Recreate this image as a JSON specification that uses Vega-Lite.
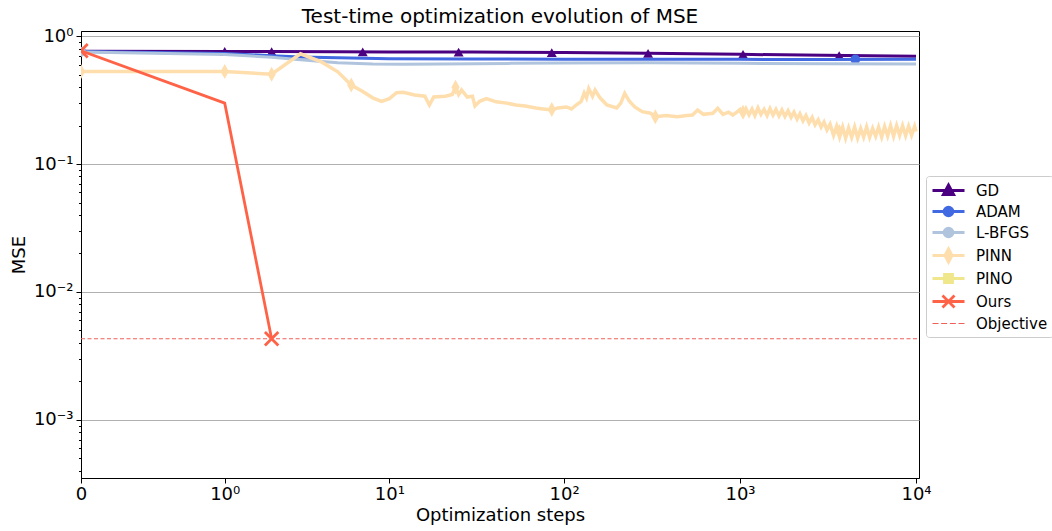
{
  "$schema": "https://vega.github.io/schema/vega-lite/v6.json",
  "width": 838,
  "height": 447,
  "autosize": {"type": "none"},
  "padding": {"left": 81, "top": 31, "right": 133, "bottom": 53},
  "title": {"text": "Test-time optimization evolution of MSE", "fontSize": 20, "fontWeight": "normal", "color": "black", "anchor": "middle", "offset": 0},
  "config": {
    "font": "DejaVu Sans",
    "view": {"stroke": "black", "strokeWidth": 1},
    "legend": {"labelFont": "DejaVu Sans"}
  },
  "datasets": {
    "lines": [
      {"series": "GD", "step": 0, "mse": 0.765}, {"series": "GD", "step": 1, "mse": 0.762}, {"series": "GD", "step": 2, "mse": 0.759}, {"series": "GD", "step": 5, "mse": 0.757}, {"series": "GD", "step": 10, "mse": 0.755}, {"series": "GD", "step": 30, "mse": 0.752}, {"series": "GD", "step": 100, "mse": 0.746}, {"series": "GD", "step": 300, "mse": 0.736}, {"series": "GD", "step": 1000, "mse": 0.722}, {"series": "GD", "step": 3000, "mse": 0.71}, {"series": "GD", "step": 10000, "mse": 0.697},
      {"series": "ADAM", "step": 0, "mse": 0.76}, {"series": "ADAM", "step": 1, "mse": 0.735}, {"series": "ADAM", "step": 2, "mse": 0.705}, {"series": "ADAM", "step": 3, "mse": 0.69}, {"series": "ADAM", "step": 5, "mse": 0.678}, {"series": "ADAM", "step": 10, "mse": 0.668}, {"series": "ADAM", "step": 30, "mse": 0.664}, {"series": "ADAM", "step": 100, "mse": 0.662}, {"series": "ADAM", "step": 300, "mse": 0.661}, {"series": "ADAM", "step": 1000, "mse": 0.66}, {"series": "ADAM", "step": 3000, "mse": 0.659}, {"series": "ADAM", "step": 10000, "mse": 0.66},
      {"series": "L-BFGS", "step": 0, "mse": 0.755}, {"series": "L-BFGS", "step": 1, "mse": 0.72}, {"series": "L-BFGS", "step": 2, "mse": 0.685}, {"series": "L-BFGS", "step": 3, "mse": 0.655}, {"series": "L-BFGS", "step": 5, "mse": 0.622}, {"series": "L-BFGS", "step": 8, "mse": 0.607}, {"series": "L-BFGS", "step": 12, "mse": 0.605}, {"series": "L-BFGS", "step": 20, "mse": 0.608}, {"series": "L-BFGS", "step": 50, "mse": 0.614}, {"series": "L-BFGS", "step": 100, "mse": 0.618}, {"series": "L-BFGS", "step": 300, "mse": 0.62}, {"series": "L-BFGS", "step": 1000, "mse": 0.615}, {"series": "L-BFGS", "step": 3000, "mse": 0.61}, {"series": "L-BFGS", "step": 10000, "mse": 0.608},
      {"series": "PINN", "step": 0, "mse": 0.53}, {"series": "PINN", "step": 1, "mse": 0.53}, {"series": "PINN", "step": 2, "mse": 0.505}, {"series": "PINN", "step": 3, "mse": 0.73}, {"series": "PINN", "step": 4, "mse": 0.63}, {"series": "PINN", "step": 5, "mse": 0.527}, {"series": "PINN", "step": 6, "mse": 0.415}, {"series": "PINN", "step": 7, "mse": 0.37}, {"series": "PINN", "step": 8, "mse": 0.33}, {"series": "PINN", "step": 9, "mse": 0.31}, {"series": "PINN", "step": 10, "mse": 0.325}, {"series": "PINN", "step": 11, "mse": 0.362}, {"series": "PINN", "step": 12, "mse": 0.365}, {"series": "PINN", "step": 14, "mse": 0.347}, {"series": "PINN", "step": 16, "mse": 0.34}, {"series": "PINN", "step": 17, "mse": 0.29}, {"series": "PINN", "step": 18, "mse": 0.335}, {"series": "PINN", "step": 21, "mse": 0.34}, {"series": "PINN", "step": 23, "mse": 0.35}, {"series": "PINN", "step": 24, "mse": 0.4}, {"series": "PINN", "step": 25, "mse": 0.35}, {"series": "PINN", "step": 26, "mse": 0.38}, {"series": "PINN", "step": 28, "mse": 0.335}, {"series": "PINN", "step": 30, "mse": 0.34}, {"series": "PINN", "step": 31, "mse": 0.285}, {"series": "PINN", "step": 33, "mse": 0.31}, {"series": "PINN", "step": 36, "mse": 0.325}, {"series": "PINN", "step": 41, "mse": 0.307}, {"series": "PINN", "step": 47, "mse": 0.3}, {"series": "PINN", "step": 53, "mse": 0.29}, {"series": "PINN", "step": 60, "mse": 0.285}, {"series": "PINN", "step": 69, "mse": 0.275}, {"series": "PINN", "step": 76, "mse": 0.27}, {"series": "PINN", "step": 85, "mse": 0.265}, {"series": "PINN", "step": 92, "mse": 0.275}, {"series": "PINN", "step": 103, "mse": 0.28}, {"series": "PINN", "step": 110, "mse": 0.27}, {"series": "PINN", "step": 117, "mse": 0.29}, {"series": "PINN", "step": 125, "mse": 0.31}, {"series": "PINN", "step": 130, "mse": 0.36}, {"series": "PINN", "step": 134, "mse": 0.33}, {"series": "PINN", "step": 138, "mse": 0.39}, {"series": "PINN", "step": 145, "mse": 0.34}, {"series": "PINN", "step": 150, "mse": 0.38}, {"series": "PINN", "step": 160, "mse": 0.33}, {"series": "PINN", "step": 175, "mse": 0.29}, {"series": "PINN", "step": 199, "mse": 0.275}, {"series": "PINN", "step": 210, "mse": 0.3}, {"series": "PINN", "step": 221, "mse": 0.357}, {"series": "PINN", "step": 235, "mse": 0.31}, {"series": "PINN", "step": 252, "mse": 0.28}, {"series": "PINN", "step": 278, "mse": 0.257}, {"series": "PINN", "step": 310, "mse": 0.25}, {"series": "PINN", "step": 330, "mse": 0.235}, {"series": "PINN", "step": 380, "mse": 0.24}, {"series": "PINN", "step": 440, "mse": 0.235}, {"series": "PINN", "step": 500, "mse": 0.24}, {"series": "PINN", "step": 537, "mse": 0.242}, {"series": "PINN", "step": 574, "mse": 0.265}, {"series": "PINN", "step": 620, "mse": 0.245}, {"series": "PINN", "step": 700, "mse": 0.25}, {"series": "PINN", "step": 747, "mse": 0.273}, {"series": "PINN", "step": 800, "mse": 0.245}, {"series": "PINN", "step": 860, "mse": 0.255}, {"series": "PINN", "step": 910, "mse": 0.242}, {"series": "PINN", "step": 960, "mse": 0.255},
      {"series": "PINN", "step": 1000, "mse": 0.268}, {"series": "PINN", "step": 1040, "mse": 0.245}, {"series": "PINN", "step": 1080, "mse": 0.272}, {"series": "PINN", "step": 1125, "mse": 0.243}, {"series": "PINN", "step": 1170, "mse": 0.27}, {"series": "PINN", "step": 1215, "mse": 0.24}, {"series": "PINN", "step": 1265, "mse": 0.275}, {"series": "PINN", "step": 1315, "mse": 0.245}, {"series": "PINN", "step": 1370, "mse": 0.268}, {"series": "PINN", "step": 1425, "mse": 0.24}, {"series": "PINN", "step": 1480, "mse": 0.272}, {"series": "PINN", "step": 1540, "mse": 0.242}, {"series": "PINN", "step": 1600, "mse": 0.268}, {"series": "PINN", "step": 1665, "mse": 0.238}, {"series": "PINN", "step": 1730, "mse": 0.265}, {"series": "PINN", "step": 1800, "mse": 0.236}, {"series": "PINN", "step": 1875, "mse": 0.262}, {"series": "PINN", "step": 1950, "mse": 0.232}, {"series": "PINN", "step": 2025, "mse": 0.255}, {"series": "PINN", "step": 2110, "mse": 0.225}, {"series": "PINN", "step": 2190, "mse": 0.248}, {"series": "PINN", "step": 2280, "mse": 0.218}, {"series": "PINN", "step": 2370, "mse": 0.24}, {"series": "PINN", "step": 2470, "mse": 0.21}, {"series": "PINN", "step": 2570, "mse": 0.232}, {"series": "PINN", "step": 2670, "mse": 0.203}, {"series": "PINN", "step": 2780, "mse": 0.222}, {"series": "PINN", "step": 2890, "mse": 0.195}, {"series": "PINN", "step": 3000, "mse": 0.213}, {"series": "PINN", "step": 3120, "mse": 0.185}, {"series": "PINN", "step": 3250, "mse": 0.205},
      {"series": "PINN", "step": 3400, "mse": 0.168}, {"series": "PINN", "step": 3540, "mse": 0.198}, {"series": "PINN", "step": 3680, "mse": 0.163}, {"series": "PINN", "step": 3830, "mse": 0.195}, {"series": "PINN", "step": 3980, "mse": 0.16}, {"series": "PINN", "step": 4140, "mse": 0.192}, {"series": "PINN", "step": 4310, "mse": 0.162}, {"series": "PINN", "step": 4480, "mse": 0.195}, {"series": "PINN", "step": 4660, "mse": 0.16}, {"series": "PINN", "step": 4850, "mse": 0.19}, {"series": "PINN", "step": 5040, "mse": 0.163}, {"series": "PINN", "step": 5240, "mse": 0.195}, {"series": "PINN", "step": 5450, "mse": 0.162}, {"series": "PINN", "step": 5670, "mse": 0.19}, {"series": "PINN", "step": 5900, "mse": 0.165}, {"series": "PINN", "step": 6130, "mse": 0.195}, {"series": "PINN", "step": 6380, "mse": 0.163}, {"series": "PINN", "step": 6630, "mse": 0.197}, {"series": "PINN", "step": 6900, "mse": 0.166}, {"series": "PINN", "step": 7170, "mse": 0.2}, {"series": "PINN", "step": 7460, "mse": 0.165}, {"series": "PINN", "step": 7760, "mse": 0.2}, {"series": "PINN", "step": 8070, "mse": 0.168}, {"series": "PINN", "step": 8390, "mse": 0.2}, {"series": "PINN", "step": 8730, "mse": 0.167}, {"series": "PINN", "step": 9080, "mse": 0.198}, {"series": "PINN", "step": 9440, "mse": 0.168}, {"series": "PINN", "step": 9820, "mse": 0.197}, {"series": "PINN", "step": 10000, "mse": 0.18},
      {"series": "Ours", "step": 0, "mse": 0.77}, {"series": "Ours", "step": 1, "mse": 0.30}, {"series": "Ours", "step": 2, "mse": 0.0043},
      {"series": "Objective", "step": 0, "mse": 0.0043}, {"series": "Objective", "step": 10400, "mse": 0.0043}
    ],
    "markers": [
      {"series": "GD", "step": 0, "mse": 0.765}, {"series": "GD", "step": 1, "mse": 0.762}, {"series": "GD", "step": 2, "mse": 0.759}, {"series": "GD", "step": 7, "mse": 0.756}, {"series": "GD", "step": 25, "mse": 0.752}, {"series": "GD", "step": 85, "mse": 0.746}, {"series": "GD", "step": 300, "mse": 0.736}, {"series": "GD", "step": 1040, "mse": 0.722}, {"series": "GD", "step": 3660, "mse": 0.708},
      {"series": "ADAM", "step": 0, "mse": 0.76}, {"series": "ADAM", "step": 4520, "mse": 0.659},
      {"series": "L-BFGS", "step": 0, "mse": 0.755},
      {"series": "PINN", "step": 0, "mse": 0.53}, {"series": "PINN", "step": 1, "mse": 0.53}, {"series": "PINN", "step": 2, "mse": 0.505}, {"series": "PINN", "step": 6, "mse": 0.415}, {"series": "PINN", "step": 24, "mse": 0.4}, {"series": "PINN", "step": 85, "mse": 0.268}, {"series": "PINN", "step": 330, "mse": 0.235}, {"series": "PINN", "step": 1040, "mse": 0.255}, {"series": "PINN", "step": 3660, "mse": 0.18},
      {"series": "Ours", "step": 0, "mse": 0.77}, {"series": "Ours", "step": 2, "mse": 0.0043}
    ]
  },
  "encoding": {
    "x": {
      "field": "step", "type": "quantitative", "title": "Optimization steps",
      "scale": {"type": "symlog", "constant": 0.18, "domain": [0, 10400], "nice": false, "zero": false},
      "axis": {
        "values": [0, 1, 10, 100, 1000, 10000],
        "labelExpr": "datum.value == 0 ? '0' : ['10⁰','10¹','10²','10³','10⁴'][round(log(datum.value)/LN10)]",
        "grid": false, "tickSize": 5, "tickColor": "black", "domainColor": "black",
        "labelColor": "black", "labelFontSize": 18, "labelFlush": false, "labelPadding": 2, "labelOverlap": false,
        "titleFontSize": 18, "titleFontWeight": "normal", "titleColor": "black", "titlePadding": 3
      }
    },
    "y": {
      "field": "mse", "type": "quantitative", "title": "MSE",
      "scale": {"type": "log", "domain": [0.00035, 1.1], "nice": false},
      "axis": {
        "values": [1, 0.9, 0.8, 0.7, 0.6, 0.5, 0.4, 0.3, 0.2, 0.1, 0.09, 0.08, 0.07, 0.06, 0.05, 0.04, 0.03, 0.02, 0.01, 0.009, 0.008, 0.007, 0.006, 0.005, 0.004, 0.003, 0.002, 0.001, 0.0009, 0.0008, 0.0007, 0.0006, 0.0005, 0.0004],
        "labelExpr": "abs(log(datum.value)/LN10 - round(log(datum.value)/LN10)) < 0.001 ? ['10⁻⁴','10⁻³','10⁻²','10⁻¹','10⁰'][round(log(datum.value)/LN10)+4] : ''",
        "grid": true, "gridColor": "#b0b0b0", "gridWidth": 1,
        "gridOpacity": {"condition": {"test": "abs(log(datum.value)/LN10 - round(log(datum.value)/LN10)) < 0.001", "value": 1}, "value": 0},
        "tickSize": {"condition": {"test": "abs(log(datum.value)/LN10 - round(log(datum.value)/LN10)) < 0.001", "value": 5}, "value": 2.5},
        "tickColor": "black", "domainColor": "black", "labelColor": "black", "labelFontSize": 18, "labelPadding": 3, "labelOverlap": false,
        "titleFontSize": 18, "titleFontWeight": "normal", "titleColor": "black", "titlePadding": 5
      }
    }
  },
  "layer": [
    {
      "data": {"name": "lines"},
      "mark": {"type": "point", "filled": true, "opacity": 0},
      "encoding": {
        "fill": {
          "field": "series", "type": "nominal",
          "scale": {"domain": ["GD", "ADAM", "L-BFGS", "PINN", "PINO", "Ours", "Objective"], "range": ["#4B0082", "#4169E1", "#B0C4DE", "#FFDEAD", "#F0E68C", "#FF6347", "#F0605A"]},
          "legend": {"title": null, "orient": "none", "legendX": 845, "legendY": 145, "strokeColor": "#cccccc", "fillColor": "white", "cornerRadius": 3, "padding": 5, "symbolSize": 256, "symbolStrokeWidth": 2.8, "symbolOffset": 8, "symbolOpacity": 1, "labelOffset": 18, "labelFontSize": 15, "labelColor": "black", "rowPadding": 0, "labelLimit": 200}
        },
        "stroke": {
          "field": "series", "type": "nominal",
          "scale": {"domain": ["GD", "ADAM", "L-BFGS", "PINN", "PINO", "Ours", "Objective"], "range": ["#4B0082", "#4169E1", "#B0C4DE", "#FFDEAD", "#F0E68C", "#FF6347", "transparent"]},
          "legend": {"title": null, "orient": "none", "legendX": 845, "legendY": 145, "strokeColor": "#cccccc", "fillColor": "white", "cornerRadius": 3, "padding": 5, "symbolSize": 256, "symbolStrokeWidth": 2.8, "symbolOffset": 8, "symbolOpacity": 1, "labelOffset": 18, "labelFontSize": 15, "labelColor": "black", "rowPadding": 0, "labelLimit": 200}
        },
        "shape": {
          "field": "series", "type": "nominal",
          "scale": {"domain": ["GD", "ADAM", "L-BFGS", "PINN", "PINO", "Ours", "Objective"], "range": [
            "M-2,0H2M0,-0.7L0.65,0.5L-0.65,0.5Z",
            "M-2,0H2M-0.55,0A0.55,0.55 0 1,0 0.55,0A0.55,0.55 0 1,0 -0.55,0Z",
            "M-2,0H2M-0.55,0A0.55,0.55 0 1,0 0.55,0A0.55,0.55 0 1,0 -0.55,0Z",
            "M-2,0H2M0,-0.85L0.45,0L0,0.85L-0.45,0Z",
            "M-2,0H2M-0.5,-0.5H0.5V0.5H-0.5Z",
            "M-2,0H2M-0.75,-0.75L0.75,0.75M-0.75,0.75L0.75,-0.75",
            "M-2,-0.07H-1.25V0.07H-2ZM-0.92,-0.07H-0.17V0.07H-0.92ZM0.17,-0.07H0.92V0.07H0.17ZM1.25,-0.07H2V0.07H1.25Z"
          ]},
          "legend": {"title": null, "orient": "none", "legendX": 845, "legendY": 145, "strokeColor": "#cccccc", "fillColor": "white", "cornerRadius": 3, "padding": 5, "symbolSize": 256, "symbolStrokeWidth": 2.8, "symbolOffset": 8, "symbolOpacity": 1, "labelOffset": 18, "labelFontSize": 15, "labelColor": "black", "rowPadding": 0, "labelLimit": 200}
        }
      }
    },
    {
      "data": {"name": "lines"}, "transform": [{"filter": "datum.series === 'GD'"}],
      "mark": {"type": "line", "strokeWidth": 3, "clip": true},
      "encoding": {"stroke": {"field": "series", "type": "nominal"}}
    },
    {
      "data": {"name": "markers"}, "transform": [{"filter": "datum.series === 'GD'"}],
      "mark": {"type": "point", "filled": true, "opacity": 1, "shape": "triangle-up", "size": 100, "clip": true},
      "encoding": {"fill": {"field": "series", "type": "nominal"}}
    },
    {
      "data": {"name": "lines"}, "transform": [{"filter": "datum.series === 'ADAM'"}],
      "mark": {"type": "line", "strokeWidth": 3, "clip": true},
      "encoding": {"stroke": {"field": "series", "type": "nominal"}}
    },
    {
      "data": {"name": "markers"}, "transform": [{"filter": "datum.series === 'ADAM'"}],
      "mark": {"type": "point", "filled": true, "opacity": 1, "shape": "circle", "size": 95, "clip": true},
      "encoding": {"fill": {"field": "series", "type": "nominal"}}
    },
    {
      "data": {"name": "lines"}, "transform": [{"filter": "datum.series === 'L-BFGS'"}],
      "mark": {"type": "line", "strokeWidth": 3, "clip": true},
      "encoding": {"stroke": {"field": "series", "type": "nominal"}}
    },
    {
      "data": {"name": "markers"}, "transform": [{"filter": "datum.series === 'L-BFGS'"}],
      "mark": {"type": "point", "filled": true, "opacity": 1, "shape": "circle", "size": 95, "clip": true},
      "encoding": {"fill": {"field": "series", "type": "nominal"}}
    },
    {
      "data": {"name": "lines"}, "transform": [{"filter": "datum.series === 'PINN'"}],
      "mark": {"type": "line", "strokeWidth": 3.5, "clip": true},
      "encoding": {"stroke": {"field": "series", "type": "nominal"}}
    },
    {
      "data": {"name": "markers"}, "transform": [{"filter": "datum.series === 'PINN'"}],
      "mark": {"type": "point", "filled": true, "opacity": 1, "shape": "M0,-1L0.55,0L0,1L-0.55,0Z", "size": 225, "clip": true},
      "encoding": {"fill": {"field": "series", "type": "nominal"}}
    },
    {
      "data": {"name": "lines"}, "transform": [{"filter": "datum.series === 'Objective'"}],
      "mark": {"type": "line", "strokeWidth": 1.2, "strokeDash": [4, 2.5], "stroke": "#F0605A", "clip": true},
      "encoding": {}
    },
    {
      "data": {"name": "lines"}, "transform": [{"filter": "datum.series === 'Ours'"}],
      "mark": {"type": "line", "strokeWidth": 2.8, "clip": true},
      "encoding": {"stroke": {"field": "series", "type": "nominal"}}
    },
    {
      "data": {"name": "markers"}, "transform": [{"filter": "datum.series === 'Ours'"}],
      "mark": {"type": "point", "filled": false, "opacity": 1, "shape": "M-1,-1L1,1M-1,1L1,-1", "size": 180, "strokeWidth": 2.8, "clip": true},
      "encoding": {"stroke": {"field": "series", "type": "nominal"}}
    }
  ]
}
